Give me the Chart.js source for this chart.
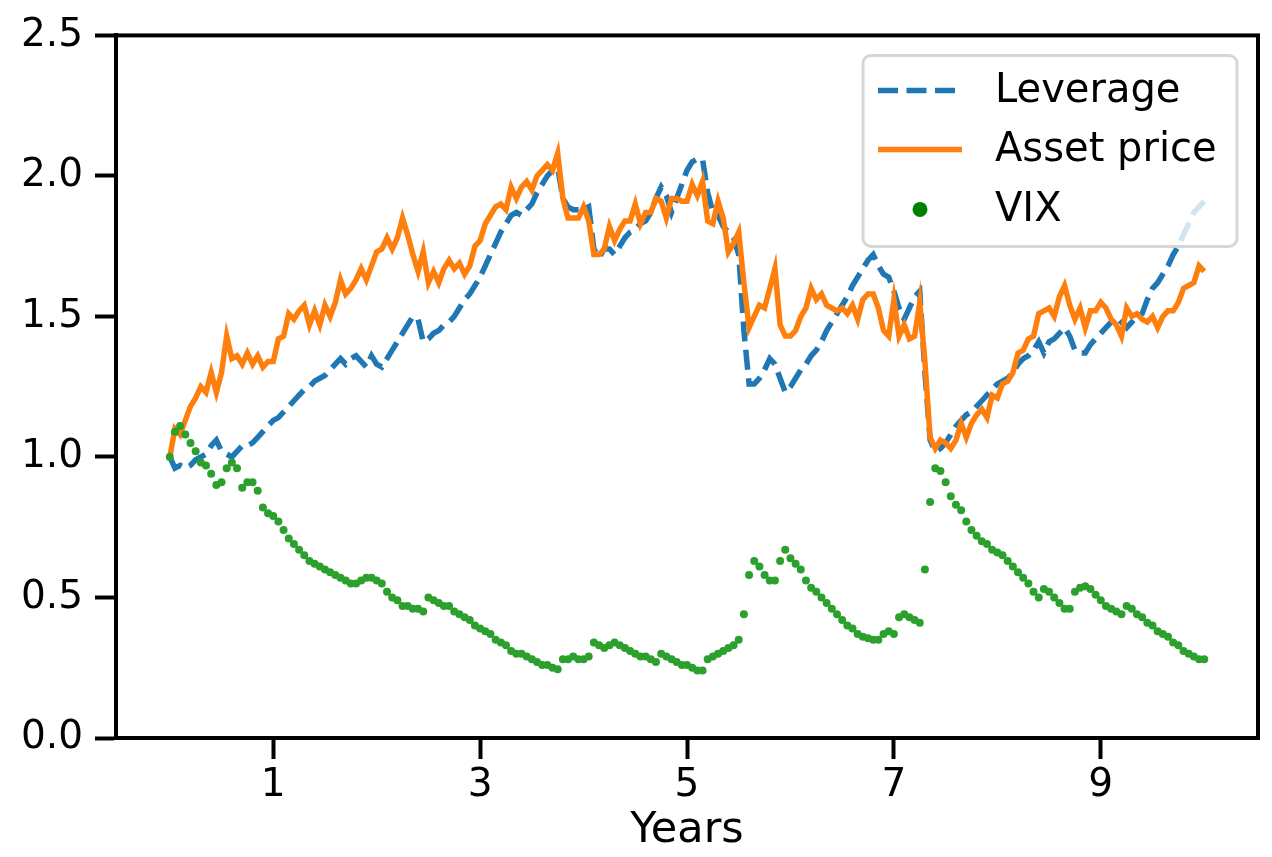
<!DOCTYPE html>
<html>
<head>
<meta charset="utf-8">
<script src="https://cdn.jsdelivr.net/npm/chart.js@4"></script>
<style>
  body { margin: 0; background: #fff; }
  #wrap { width: 1272px; height: 857px; }
</style>
</head>
<body>
<div id="wrap"><canvas id="myChart" width="1272" height="857"></canvas></div>
<script>
// time grid: every 0.05 year from 0 to 10
const years = Array.from({ length: 201 }, (_, i) => i / 20);

const leverage = [
  1.00, 0.96, 0.97, 0.96, 0.97, 0.99, 1.00, 1.01, 1.04, 1.06,
  1.02, 1.01, 1.00, 1.02, 1.04, 1.04, 1.05, 1.07, 1.09, 1.11,
  1.13, 1.14, 1.16, 1.18, 1.20, 1.22, 1.24, 1.25, 1.27, 1.28,
  1.29, 1.31, 1.33, 1.35, 1.33, 1.35, 1.36, 1.34, 1.32, 1.36,
  1.33, 1.32, 1.35, 1.38, 1.41, 1.44, 1.47, 1.50, 1.49, 1.41,
  1.42, 1.44, 1.45, 1.47, 1.48, 1.50, 1.53, 1.56, 1.58, 1.61,
  1.64, 1.68, 1.72, 1.76, 1.80, 1.83, 1.86, 1.87, 1.86, 1.88,
  1.90, 1.94, 1.97, 2.00, 2.02, 2.03, 1.92, 1.89, 1.88, 1.88,
  1.88, 1.89, 1.74, 1.71, 1.74, 1.74, 1.72, 1.75, 1.78, 1.80,
  1.81, 1.83, 1.84, 1.87, 1.92, 1.96, 1.93, 1.87, 1.92, 1.97,
  2.02, 2.05, 2.06, 2.06, 1.94, 1.87, 1.86, 1.82, 1.80, 1.78,
  1.72, 1.45, 1.26, 1.26, 1.28, 1.31, 1.35, 1.33, 1.28, 1.23,
  1.25, 1.28, 1.31, 1.33, 1.36, 1.38, 1.41, 1.45, 1.48, 1.51,
  1.54, 1.57, 1.61, 1.64, 1.67, 1.70, 1.72, 1.68, 1.65, 1.64,
  1.59, 1.53, 1.49, 1.53, 1.57, 1.59, 1.30, 1.06, 1.02, 1.03,
  1.05, 1.08, 1.11, 1.13, 1.15, 1.16, 1.18, 1.20, 1.22, 1.24,
  1.26, 1.27, 1.28, 1.30, 1.33, 1.35, 1.36, 1.38, 1.41, 1.37,
  1.41, 1.42, 1.44, 1.46, 1.43, 1.38, 1.37, 1.37, 1.40, 1.42,
  1.44, 1.46, 1.48, 1.50, 1.48, 1.46, 1.48, 1.50, 1.51, 1.56,
  1.60, 1.62, 1.65, 1.68, 1.72, 1.75, 1.79, 1.83, 1.87, 1.89,
  1.91
];

const assetPrice = [
  1.00, 1.10, 1.08, 1.13, 1.18, 1.21, 1.25, 1.23, 1.30, 1.23,
  1.30, 1.43, 1.35, 1.36, 1.33, 1.37, 1.33, 1.36, 1.32, 1.34,
  1.34, 1.42, 1.43, 1.51, 1.49, 1.52, 1.54, 1.47, 1.52, 1.47,
  1.54, 1.50, 1.55, 1.63, 1.58, 1.60, 1.63, 1.67, 1.63, 1.68,
  1.73, 1.74, 1.78, 1.74, 1.78, 1.85, 1.79, 1.72, 1.66, 1.73,
  1.62, 1.66, 1.62, 1.67, 1.70, 1.67, 1.69, 1.65, 1.68, 1.75,
  1.77, 1.83, 1.86, 1.89, 1.90, 1.88, 1.96, 1.92, 1.96, 1.98,
  1.95, 2.00, 2.02, 2.04, 2.02, 2.08, 1.92, 1.85, 1.85, 1.85,
  1.89, 1.84, 1.72, 1.72, 1.74, 1.82, 1.77, 1.81, 1.84, 1.84,
  1.90, 1.83, 1.87, 1.87, 1.92, 1.91, 1.85, 1.92, 1.92, 1.91,
  1.91, 1.97, 1.93, 1.98, 1.84, 1.83, 1.91, 1.85, 1.73, 1.76,
  1.80, 1.62, 1.46, 1.50, 1.54, 1.53, 1.60, 1.67, 1.47, 1.43,
  1.43, 1.45, 1.50, 1.53, 1.60, 1.56, 1.58, 1.54, 1.53, 1.52,
  1.53, 1.51, 1.54, 1.49, 1.56, 1.58, 1.58, 1.53, 1.45, 1.43,
  1.56, 1.43, 1.47, 1.42, 1.43, 1.55, 1.34, 1.07, 1.03, 1.06,
  1.05, 1.03, 1.06, 1.12, 1.07, 1.12, 1.15, 1.17, 1.14, 1.22,
  1.21, 1.26, 1.27, 1.30, 1.37, 1.38, 1.42, 1.43, 1.51, 1.52,
  1.53, 1.50, 1.57, 1.61, 1.54, 1.49, 1.53, 1.46, 1.52, 1.52,
  1.55, 1.53, 1.49, 1.47, 1.43, 1.53, 1.50, 1.51, 1.49, 1.48,
  1.50, 1.46, 1.50, 1.52, 1.52, 1.55, 1.60, 1.61, 1.62, 1.68,
  1.66
];

const vix = [
  1.00, 1.09, 1.11, 1.08, 1.05, 1.02, 0.98, 0.97, 0.94, 0.90,
  0.91, 0.96, 0.98, 0.96, 0.89, 0.91, 0.91, 0.88, 0.82, 0.80,
  0.79, 0.77, 0.74, 0.71, 0.69, 0.67, 0.65, 0.63, 0.62, 0.61,
  0.60, 0.59, 0.58, 0.57, 0.56, 0.55, 0.55, 0.56, 0.57, 0.57,
  0.56, 0.55, 0.52, 0.50, 0.49, 0.47, 0.47, 0.46, 0.46, 0.45,
  0.50, 0.49, 0.48, 0.47, 0.47, 0.45, 0.44, 0.43, 0.42, 0.40,
  0.39, 0.38, 0.37, 0.35, 0.34, 0.33, 0.31, 0.30, 0.30, 0.29,
  0.28, 0.27, 0.26, 0.26, 0.25, 0.245, 0.28, 0.28, 0.29, 0.28,
  0.28, 0.29, 0.34, 0.33, 0.32, 0.33, 0.34, 0.33, 0.32, 0.31,
  0.30, 0.29, 0.29, 0.28, 0.27, 0.30, 0.29, 0.28, 0.27, 0.26,
  0.26, 0.25, 0.24, 0.24, 0.28, 0.29, 0.30, 0.31, 0.32, 0.33,
  0.35, 0.44, 0.58, 0.63, 0.61, 0.58, 0.56, 0.56, 0.63, 0.67,
  0.64, 0.62, 0.60, 0.56, 0.535, 0.52, 0.50, 0.48, 0.46, 0.44,
  0.42, 0.40, 0.39, 0.37, 0.36, 0.355, 0.35, 0.35, 0.37, 0.38,
  0.37, 0.43, 0.44, 0.43, 0.42, 0.41, 0.60, 0.84, 0.96, 0.95,
  0.91, 0.86, 0.83, 0.81, 0.77, 0.74, 0.72, 0.70, 0.69, 0.67,
  0.66, 0.65, 0.63, 0.61, 0.59, 0.57, 0.55, 0.52, 0.50, 0.53,
  0.52, 0.50, 0.48, 0.46, 0.46, 0.52, 0.535, 0.54, 0.53, 0.51,
  0.49, 0.47, 0.46, 0.45, 0.44, 0.47, 0.46, 0.44, 0.43, 0.41,
  0.40, 0.38, 0.37, 0.36, 0.34, 0.33, 0.31, 0.30, 0.29, 0.28,
  0.28
];

const xTicks = [1, 3, 5, 7, 9];

const FONT = "'DejaVu Sans', sans-serif";

function toPoints(values) {
  return values.map((v, i) => ({ x: years[i], y: v }));
}

// axes frame (top + right spines too) and boxed legend drawn inside the plot
const frameAndLegend = {
  id: "frameAndLegend",
  afterDatasetsDraw(chart) {
    const { ctx, chartArea } = chart;
    const ds = chart.data.datasets;

    // legend box
    const w = 374, h = 191;
    const x0 = chartArea.right - 21 - w;
    const y0 = chartArea.top + 20;
    ctx.save();
    ctx.beginPath();
    ctx.roundRect(x0, y0, w, h, 8);
    ctx.fillStyle = "rgba(255,255,255,0.8)";
    ctx.fill();
    ctx.lineWidth = 3;
    ctx.strokeStyle = "rgba(204,204,204,0.8)";
    ctx.stroke();

    const rows = [35, 94, 154];
    ctx.font = "40px " + FONT;
    ctx.textBaseline = "middle";
    ctx.fillStyle = "#000";
    ds.forEach((d, i) => {
      const cy = y0 + rows[i];
      if (d.showLine === false) {
        ctx.beginPath();
        ctx.arc(x0 + 57, cy, 7.5, 0, Math.PI * 2);
        ctx.fillStyle = "#008000";
        ctx.fill();
      } else {
        ctx.beginPath();
        ctx.setLineDash(d.borderDash || []);
        ctx.lineWidth = d.borderWidth;
        ctx.strokeStyle = d.borderColor;
        ctx.moveTo(x0 + 15, cy);
        ctx.lineTo(x0 + 99, cy);
        ctx.stroke();
        ctx.setLineDash([]);
      }
      ctx.fillStyle = "#000";
      ctx.fillText(d.label, x0 + 132, cy + 1);
    });

    // spines
    ctx.lineWidth = 4;
    ctx.strokeStyle = "#000";
    ctx.strokeRect(chartArea.left, chartArea.top,
      chartArea.right - chartArea.left, chartArea.bottom - chartArea.top);
    ctx.restore();
  }
};

new Chart(document.getElementById("myChart"), {
  type: "line",
  data: {
    datasets: [
      {
        label: "Leverage",
        data: toPoints(leverage),
        borderColor: "#1f77b4",
        borderWidth: 5.5,
        borderDash: [20, 8.5],
        pointRadius: 0,
        fill: false,
        order: 2,
      },
      {
        label: "Asset price",
        data: toPoints(assetPrice),
        borderColor: "#ff7f0e",
        borderWidth: 5.5,
        pointRadius: 0,
        fill: false,
        order: 1,
      },
      {
        label: "VIX",
        data: toPoints(vix),
        showLine: false,
        borderWidth: 0,
        pointRadius: 4,
        pointBorderWidth: 0,
        pointBackgroundColor: "#2ca02c",
        backgroundColor: "#2ca02c",
        borderColor: "#2ca02c",
        order: 0,
      },
    ],
  },
  options: {
    responsive: false,
    animation: false,
    devicePixelRatio: 1,
    layout: { padding: { left: 0, top: 32, right: 14, bottom: 0 } },
    plugins: {
      legend: { display: false },
      tooltip: { enabled: false },
    },
    scales: {
      x: {
        type: "linear",
        min: -0.52,
        max: 10.52,
        afterBuildTicks: (scale) => {
          scale.ticks = xTicks.map((v) => ({ value: v }));
        },
        afterFit: (scale) => {
          scale.height = 119;
        },
        grid: {
          drawOnChartArea: false,
          tickLength: 21,
          tickWidth: 4,
          tickColor: "#000",
        },
        border: { display: true, color: "#000", width: 4 },
        ticks: {
          color: "#000",
          font: { family: FONT, size: 39 },
          padding: 3,
          maxRotation: 0,
          callback: (v) => String(v),
        },
        title: {
          display: true,
          text: "Years",
          color: "#000",
          font: { family: FONT, size: 43 },
          padding: { top: 0, bottom: 0 },
        },
      },
      y: {
        min: 0,
        max: 2.5,
        afterFit: (scale) => {
          scale.width = 116;
        },
        grid: {
          drawOnChartArea: false,
          tickLength: 21,
          tickWidth: 4,
          tickColor: "#000",
        },
        border: { display: true, color: "#000", width: 4 },
        ticks: {
          stepSize: 0.5,
          color: "#000",
          font: { family: FONT, size: 39 },
          padding: 12,
          callback: (v) => v.toFixed(1),
        },
      },
    },
  },
  plugins: [frameAndLegend],
});
</script>
</body>
</html>
